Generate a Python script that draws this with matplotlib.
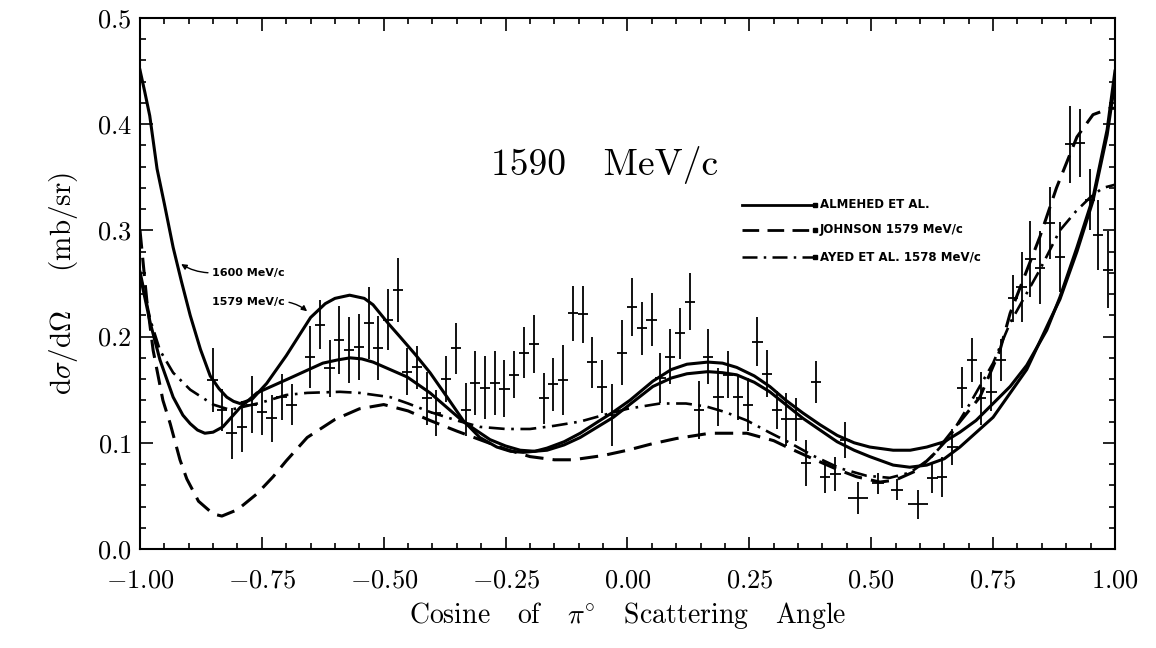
#!/usr/bin/env python3
"""
pi0 differential cross section at 1590 MeV/c
"""

import matplotlib
matplotlib.use("Agg")
import matplotlib.pyplot as plt
from matplotlib.ticker import MultipleLocator

plt.rcParams['font.family'] = ['cmr10', 'DejaVu Serif']
plt.rcParams['mathtext.fontset'] = 'cm'
plt.rcParams['axes.formatter.use_mathtext'] = True

# Measured points: cos(theta), dsigma/dOmega, vertical error, horizontal half-width
DATA_X = [-0.851, -0.832, -0.812, -0.791, -0.771, -0.750, -0.730, -0.709, -0.689, -0.651,
          -0.631, -0.611, -0.592, -0.571, -0.551, -0.530, -0.512, -0.491, -0.471, -0.452,
          -0.432, -0.411, -0.393, -0.372, -0.352, -0.331, -0.313, -0.292, -0.272, -0.253,
          -0.233, -0.212, -0.192, -0.171, -0.153, -0.132, -0.112, -0.091, -0.073, -0.052,
          -0.032, -0.011, 0.009, 0.030, 0.050, 0.067, 0.087, 0.108, 0.128, 0.147,
          0.165, 0.186, 0.206, 0.227, 0.247, 0.266, 0.286, 0.307, 0.325, 0.346,
          0.366, 0.387, 0.405, 0.426, 0.446, 0.473, 0.514, 0.553, 0.596, 0.625,
          0.645, 0.666, 0.686, 0.707, 0.725, 0.746, 0.766, 0.791, 0.809, 0.826,
          0.846, 0.867, 0.887, 0.908, 0.928, 0.949, 0.965, 0.986]
DATA_Y = [0.159, 0.131, 0.109, 0.115, 0.136, 0.129, 0.123, 0.143, 0.136, 0.181,
          0.211, 0.170, 0.197, 0.187, 0.190, 0.213, 0.189, 0.216, 0.244, 0.167,
          0.171, 0.142, 0.128, 0.160, 0.189, 0.131, 0.156, 0.152, 0.156, 0.151,
          0.164, 0.185, 0.193, 0.142, 0.155, 0.159, 0.222, 0.221, 0.176, 0.153,
          0.126, 0.185, 0.228, 0.208, 0.216, 0.161, 0.181, 0.203, 0.233, 0.131,
          0.181, 0.143, 0.164, 0.143, 0.136, 0.195, 0.165, 0.131, 0.122, 0.122,
          0.081, 0.157, 0.068, 0.071, 0.103, 0.048, 0.062, 0.056, 0.042, 0.067,
          0.068, 0.096, 0.152, 0.178, 0.142, 0.148, 0.178, 0.236, 0.247, 0.273,
          0.265, 0.307, 0.275, 0.381, 0.382, 0.329, 0.296, 0.263]
DATA_YERR = [0.030, 0.020, 0.024, 0.024, 0.027, 0.022, 0.022, 0.022, 0.019, 0.029,
             0.023, 0.027, 0.032, 0.031, 0.031, 0.034, 0.030, 0.029, 0.030, 0.022,
             0.020, 0.025, 0.022, 0.022, 0.024, 0.025, 0.030, 0.030, 0.030, 0.027,
             0.022, 0.024, 0.027, 0.024, 0.025, 0.033, 0.026, 0.027, 0.024, 0.025,
             0.029, 0.031, 0.027, 0.025, 0.025, 0.024, 0.026, 0.024, 0.027, 0.027,
             0.026, 0.027, 0.022, 0.022, 0.025, 0.023, 0.022, 0.018, 0.025, 0.020,
             0.022, 0.020, 0.015, 0.016, 0.017, 0.015, 0.010, 0.010, 0.014, 0.014,
             0.019, 0.017, 0.019, 0.021, 0.025, 0.018, 0.020, 0.022, 0.033, 0.036,
             0.034, 0.034, 0.033, 0.036, 0.032, 0.029, 0.033, 0.036]
DATA_XERR = [0.011] * 65 + [0.02, 0.012, 0.012, 0.02] + [0.011] * 19

# Almehed et al. fit, 1600 MeV/c
ALM1600_X = [-1.00, -0.99, -0.98, -0.965, -0.95, -0.932, -0.915, -0.897, -0.876, -0.856,
             -0.838, -0.822, -0.808, -0.795, -0.77, -0.74, -0.70, -0.65, -0.62, -0.60,
             -0.57, -0.54, -0.522, -0.49, -0.467, -0.435, -0.405, -0.37, -0.337, -0.303,
             -0.268, -0.24, -0.214, -0.19, -0.165, -0.13, -0.097, -0.06, -0.029, 0.005,
             0.052, 0.09, 0.122, 0.165, 0.195, 0.224, 0.26, 0.292, 0.325, 0.36,
             0.395, 0.43, 0.465, 0.497, 0.545, 0.58, 0.614, 0.65, 0.682, 0.715,
             0.75, 0.785, 0.819, 0.86, 0.887, 0.922, 0.955, 0.984, 1.00]
ALM1600_Y = [0.451, 0.430, 0.408, 0.358, 0.325, 0.284, 0.252, 0.220, 0.188, 0.163,
             0.151, 0.143, 0.139, 0.137, 0.141, 0.156, 0.182, 0.218, 0.231, 0.236,
             0.239, 0.236, 0.230, 0.212, 0.200, 0.183, 0.166, 0.143, 0.121, 0.105,
             0.096, 0.092, 0.091, 0.092, 0.095, 0.101, 0.109, 0.120, 0.129, 0.140,
             0.158, 0.169, 0.174, 0.176, 0.175, 0.171, 0.163, 0.153, 0.140, 0.128,
             0.117, 0.107, 0.100, 0.096, 0.093, 0.093, 0.096, 0.101, 0.110, 0.121,
             0.137, 0.153, 0.173, 0.206, 0.237, 0.284, 0.331, 0.395, 0.450]

# Almehed et al. fit, 1579 MeV/c
ALM1579_X = [-1.00, -0.979, -0.959, -0.932, -0.912, -0.897, -0.882, -0.867, -0.85, -0.83,
             -0.795, -0.76, -0.692, -0.625, -0.595, -0.569, -0.545, -0.522, -0.452, -0.405,
             -0.337, -0.282, -0.25, -0.22, -0.19, -0.165, -0.13, -0.097, -0.029, 0.052,
             0.09, 0.122, 0.165, 0.195, 0.224, 0.26, 0.292, 0.36, 0.43, 0.465,
             0.497, 0.545, 0.579, 0.614, 0.65, 0.682, 0.75, 0.819, 0.867, 0.887,
             0.922, 0.955, 0.984, 1.00]
ALM1579_Y = [0.258, 0.213, 0.178, 0.143, 0.126, 0.118, 0.112, 0.109, 0.110, 0.115,
             0.133, 0.147, 0.161, 0.175, 0.178, 0.180, 0.179, 0.176, 0.162, 0.147,
             0.120, 0.103, 0.097, 0.093, 0.092, 0.093, 0.098, 0.105, 0.124, 0.153,
             0.161, 0.165, 0.167, 0.166, 0.164, 0.157, 0.148, 0.123, 0.101, 0.093,
             0.087, 0.079, 0.077, 0.079, 0.085, 0.096, 0.124, 0.169, 0.216, 0.235,
             0.280, 0.328, 0.390, 0.440]

# Johnson, 1579 MeV/c
JOHN_X = [-1.00, -0.986, -0.973, -0.953, -0.938, -0.918, -0.904, -0.88, -0.85, -0.832,
          -0.80, -0.76, -0.727, -0.70, -0.657, -0.60, -0.55, -0.50, -0.45, -0.405,
          -0.35, -0.303, -0.25, -0.20, -0.15, -0.112, -0.05, 0.0, 0.05, 0.10,
          0.169, 0.245, 0.30, 0.327, 0.38, 0.43, 0.47, 0.518, 0.55, 0.594,
          0.63, 0.668, 0.723, 0.764, 0.785, 0.846, 0.88, 0.922, 0.955, 0.99, 1.00]
JOHN_Y = [0.300, 0.234, 0.187, 0.140, 0.118, 0.084, 0.066, 0.045, 0.033, 0.031,
          0.037, 0.052, 0.068, 0.083, 0.105, 0.122, 0.132, 0.136, 0.130, 0.121,
          0.111, 0.103, 0.094, 0.087, 0.084, 0.084, 0.088, 0.093, 0.099, 0.104,
          0.109, 0.109, 0.102, 0.096, 0.085, 0.075, 0.068, 0.063, 0.065, 0.074,
          0.090, 0.112, 0.143, 0.187, 0.222, 0.294, 0.340, 0.388, 0.409, 0.415, 0.415]

# Ayed et al., 1578 MeV/c
AYED_X = [-1.00, -0.979, -0.959, -0.932, -0.897, -0.85, -0.815, -0.75, -0.70, -0.657,
          -0.59, -0.55, -0.487, -0.45, -0.405, -0.35, -0.303, -0.25, -0.20, -0.15,
          -0.097, -0.05, 0.0, 0.067, 0.12, 0.163, 0.20, 0.245, 0.29, 0.333,
          0.38, 0.436, 0.49, 0.538, 0.58, 0.62, 0.66, 0.70, 0.75, 0.785,
          0.846, 0.887, 0.92, 0.949, 0.975, 1.00]
AYED_Y = [0.262, 0.216, 0.187, 0.166, 0.150, 0.136, 0.131, 0.138, 0.145, 0.147,
          0.148, 0.147, 0.143, 0.137, 0.129, 0.121, 0.115, 0.113, 0.113, 0.116,
          0.120, 0.126, 0.132, 0.137, 0.137, 0.134, 0.129, 0.121, 0.110, 0.100,
          0.088, 0.076, 0.069, 0.067, 0.072, 0.085, 0.105, 0.135, 0.175, 0.213,
          0.263, 0.300, 0.318, 0.331, 0.340, 0.343]

LEGEND_LABELS = ["ALMEHED ET AL.", "JOHNSON 1579 MeV/c", "AYED ET AL. 1578 MeV/c"]

DASHED = (0, (6, 3))
DASHDOT = (0, (6, 2.5, 1, 2.5))


def main():
    fig = plt.figure(figsize=(11.56, 6.48), dpi=100)
    ax = fig.add_axes([0.1211, 0.1528, 0.8434, 0.8194])

    kw = dict(color='black', solid_joinstyle='round', dash_joinstyle='round')
    ax.plot(ALM1600_X, ALM1600_Y, lw=2.2, **kw)
    ax.plot(ALM1579_X, ALM1579_Y, lw=2.2, **kw)
    ax.plot(JOHN_X, JOHN_Y, lw=2.2, linestyle=DASHED, **kw)
    ax.plot(AYED_X, AYED_Y, lw=1.9, linestyle=DASHDOT, **kw)

    ax.errorbar(DATA_X, DATA_Y, yerr=DATA_YERR, xerr=DATA_XERR, fmt='none',
                ecolor='black', elinewidth=1.3, capsize=0)

    ax.set_xlim(-1.0, 1.0)
    ax.set_ylim(0.0, 0.5)
    ax.xaxis.set_major_locator(MultipleLocator(0.25))
    ax.xaxis.set_minor_locator(MultipleLocator(0.05))
    ax.yaxis.set_major_locator(MultipleLocator(0.1))
    ax.yaxis.set_minor_locator(MultipleLocator(0.02))
    ax.xaxis.set_major_formatter(plt.FuncFormatter(lambda v, p: r'$%.2f$' % v))
    ax.yaxis.set_major_formatter(plt.FuncFormatter(lambda v, p: r'$%.1f$' % v))
    ax.tick_params(which='both', direction='in', top=True, right=True, width=1.2)
    ax.tick_params(which='major', length=9, labelsize=19)
    ax.tick_params(axis='x', which='major', pad=14)
    ax.tick_params(axis='y', which='major', pad=6)
    ax.tick_params(which='minor', length=4.5)
    for s in ax.spines.values():
        s.set_linewidth(1.5)

    ax.set_xlabel(r'Cosine   of   $\pi^{\circ}$   Scattering   Angle', fontsize=20, labelpad=6)
    ax.set_ylabel(r'd$\sigma$/d$\Omega$    (mb/sr)', fontsize=21, labelpad=12)

    ax.text(-0.046, 0.362, '1590   MeV/c', fontsize=27, ha='center', va='center')

    # curve labels on the left
    ax.annotate('1600 MeV/c', xy=(-0.918, 0.269), xytext=(-0.852, 0.260),
                fontsize=8, fontweight='bold', family='DejaVu Sans', ha='left', va='center',
                arrowprops=dict(arrowstyle='-|>', color='black', lw=1.0, mutation_scale=8,
                                relpos=(0, 0.5), shrinkA=1, shrinkB=1,
                                connectionstyle='arc3,rad=-0.15'))
    ax.annotate('1579 MeV/c', xy=(-0.655, 0.223), xytext=(-0.852, 0.233),
                fontsize=8, fontweight='bold', family='DejaVu Sans', ha='left', va='center',
                arrowprops=dict(arrowstyle='-|>', color='black', lw=1.0, mutation_scale=8,
                                relpos=(1, 0.5), shrinkA=1, shrinkB=1,
                                connectionstyle='arc3,rad=-0.15'))

    # hand drawn legend
    styles = [('-', 2.0), (DASHED, 2.0), (DASHDOT, 1.8)]
    rows = [0.648, 0.601, 0.550]
    for (ls, lw), yy, lab in zip(styles, rows, LEGEND_LABELS):
        ax.plot([0.617, 0.690], [yy, yy], transform=ax.transAxes, color='black',
                lw=lw, linestyle=ls)
        ax.plot([0.692], [yy], transform=ax.transAxes, marker='s', ms=3, color='black')
        ax.text(0.697, yy, lab, transform=ax.transAxes, fontsize=8.5, fontweight='bold',
                family='DejaVu Sans', ha='left', va='center')

    fig.savefig('out.png', dpi=100)


if __name__ == "__main__":
    main()
